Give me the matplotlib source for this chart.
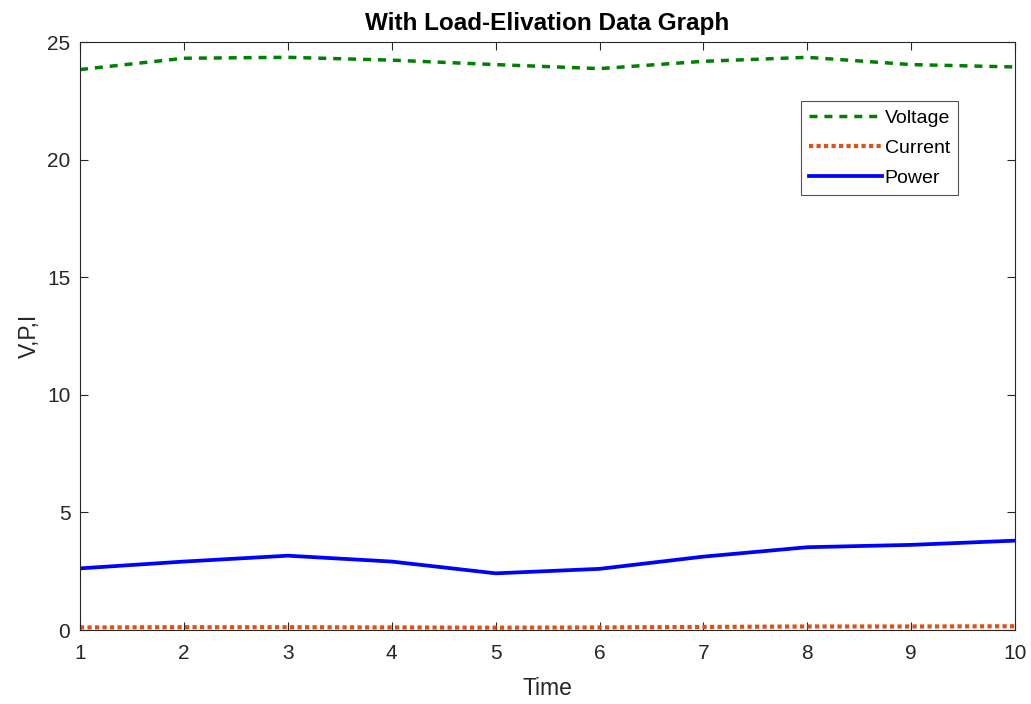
import numpy as np
import matplotlib.pyplot as plt

plt.rcParams['font.family'] = ['Liberation Sans', 'DejaVu Sans']

time = [1, 2, 3, 4, 5, 6, 7, 8, 9, 10]
voltage = [23.83, 24.31, 24.35, 24.23, 24.04, 23.87, 24.18, 24.35, 24.04, 23.94]
current = [0.11, 0.12, 0.12, 0.11, 0.10, 0.11, 0.13, 0.15, 0.15, 0.16]
power = [2.62, 2.91, 3.16, 2.91, 2.41, 2.60, 3.12, 3.52, 3.62, 3.80]

fig = plt.figure(figsize=(10.31, 7.04), dpi=100)
ax = fig.add_axes([0.0776, 0.1051, 0.907, 0.8352])

ax.plot(time, voltage, color='#008000', linestyle=(0, (2.3, 2.0)), linewidth=2.5, label='Voltage')
ax.plot(time, current, color='#D95319', linestyle=(0, (1, 0.8)), linewidth=3.0, label='Current')
ax.plot(time, power, color='#0000FF', linestyle='-', linewidth=2.7, label='Power')

ax.set_xlim(1, 10)
ax.set_ylim(0, 25)
ax.set_xticks(range(1, 11))
ax.set_yticks([0, 5, 10, 15, 20, 25])
ax.tick_params(direction='in', length=6, width=0.8, colors='#262626', labelsize=15,
               top=True, right=True)
ax.tick_params(axis='x', pad=10)
ax.tick_params(axis='y', pad=7)
for s in ax.spines.values():
    s.set_color('#262626')
    s.set_linewidth(0.8)

ax.set_xlabel('Time', fontsize=16.5, color='#262626', labelpad=10)
ax.set_ylabel('V,P,I', fontsize=16.5, color='#262626', labelpad=4)
ax.set_title('With Load-Elivation Data Graph', fontsize=17.5, fontweight='bold', pad=9)

leg = ax.legend(loc='upper right', bbox_to_anchor=(0.939, 0.899), fontsize=14, frameon=True,
                fancybox=False, edgecolor='#262626', handlelength=3.75, handletextpad=0.15,
                borderpad=0.42, labelspacing=0.62, borderaxespad=0)
leg.get_frame().set_linewidth(0.8)

plt.savefig('out.png', dpi=100)
